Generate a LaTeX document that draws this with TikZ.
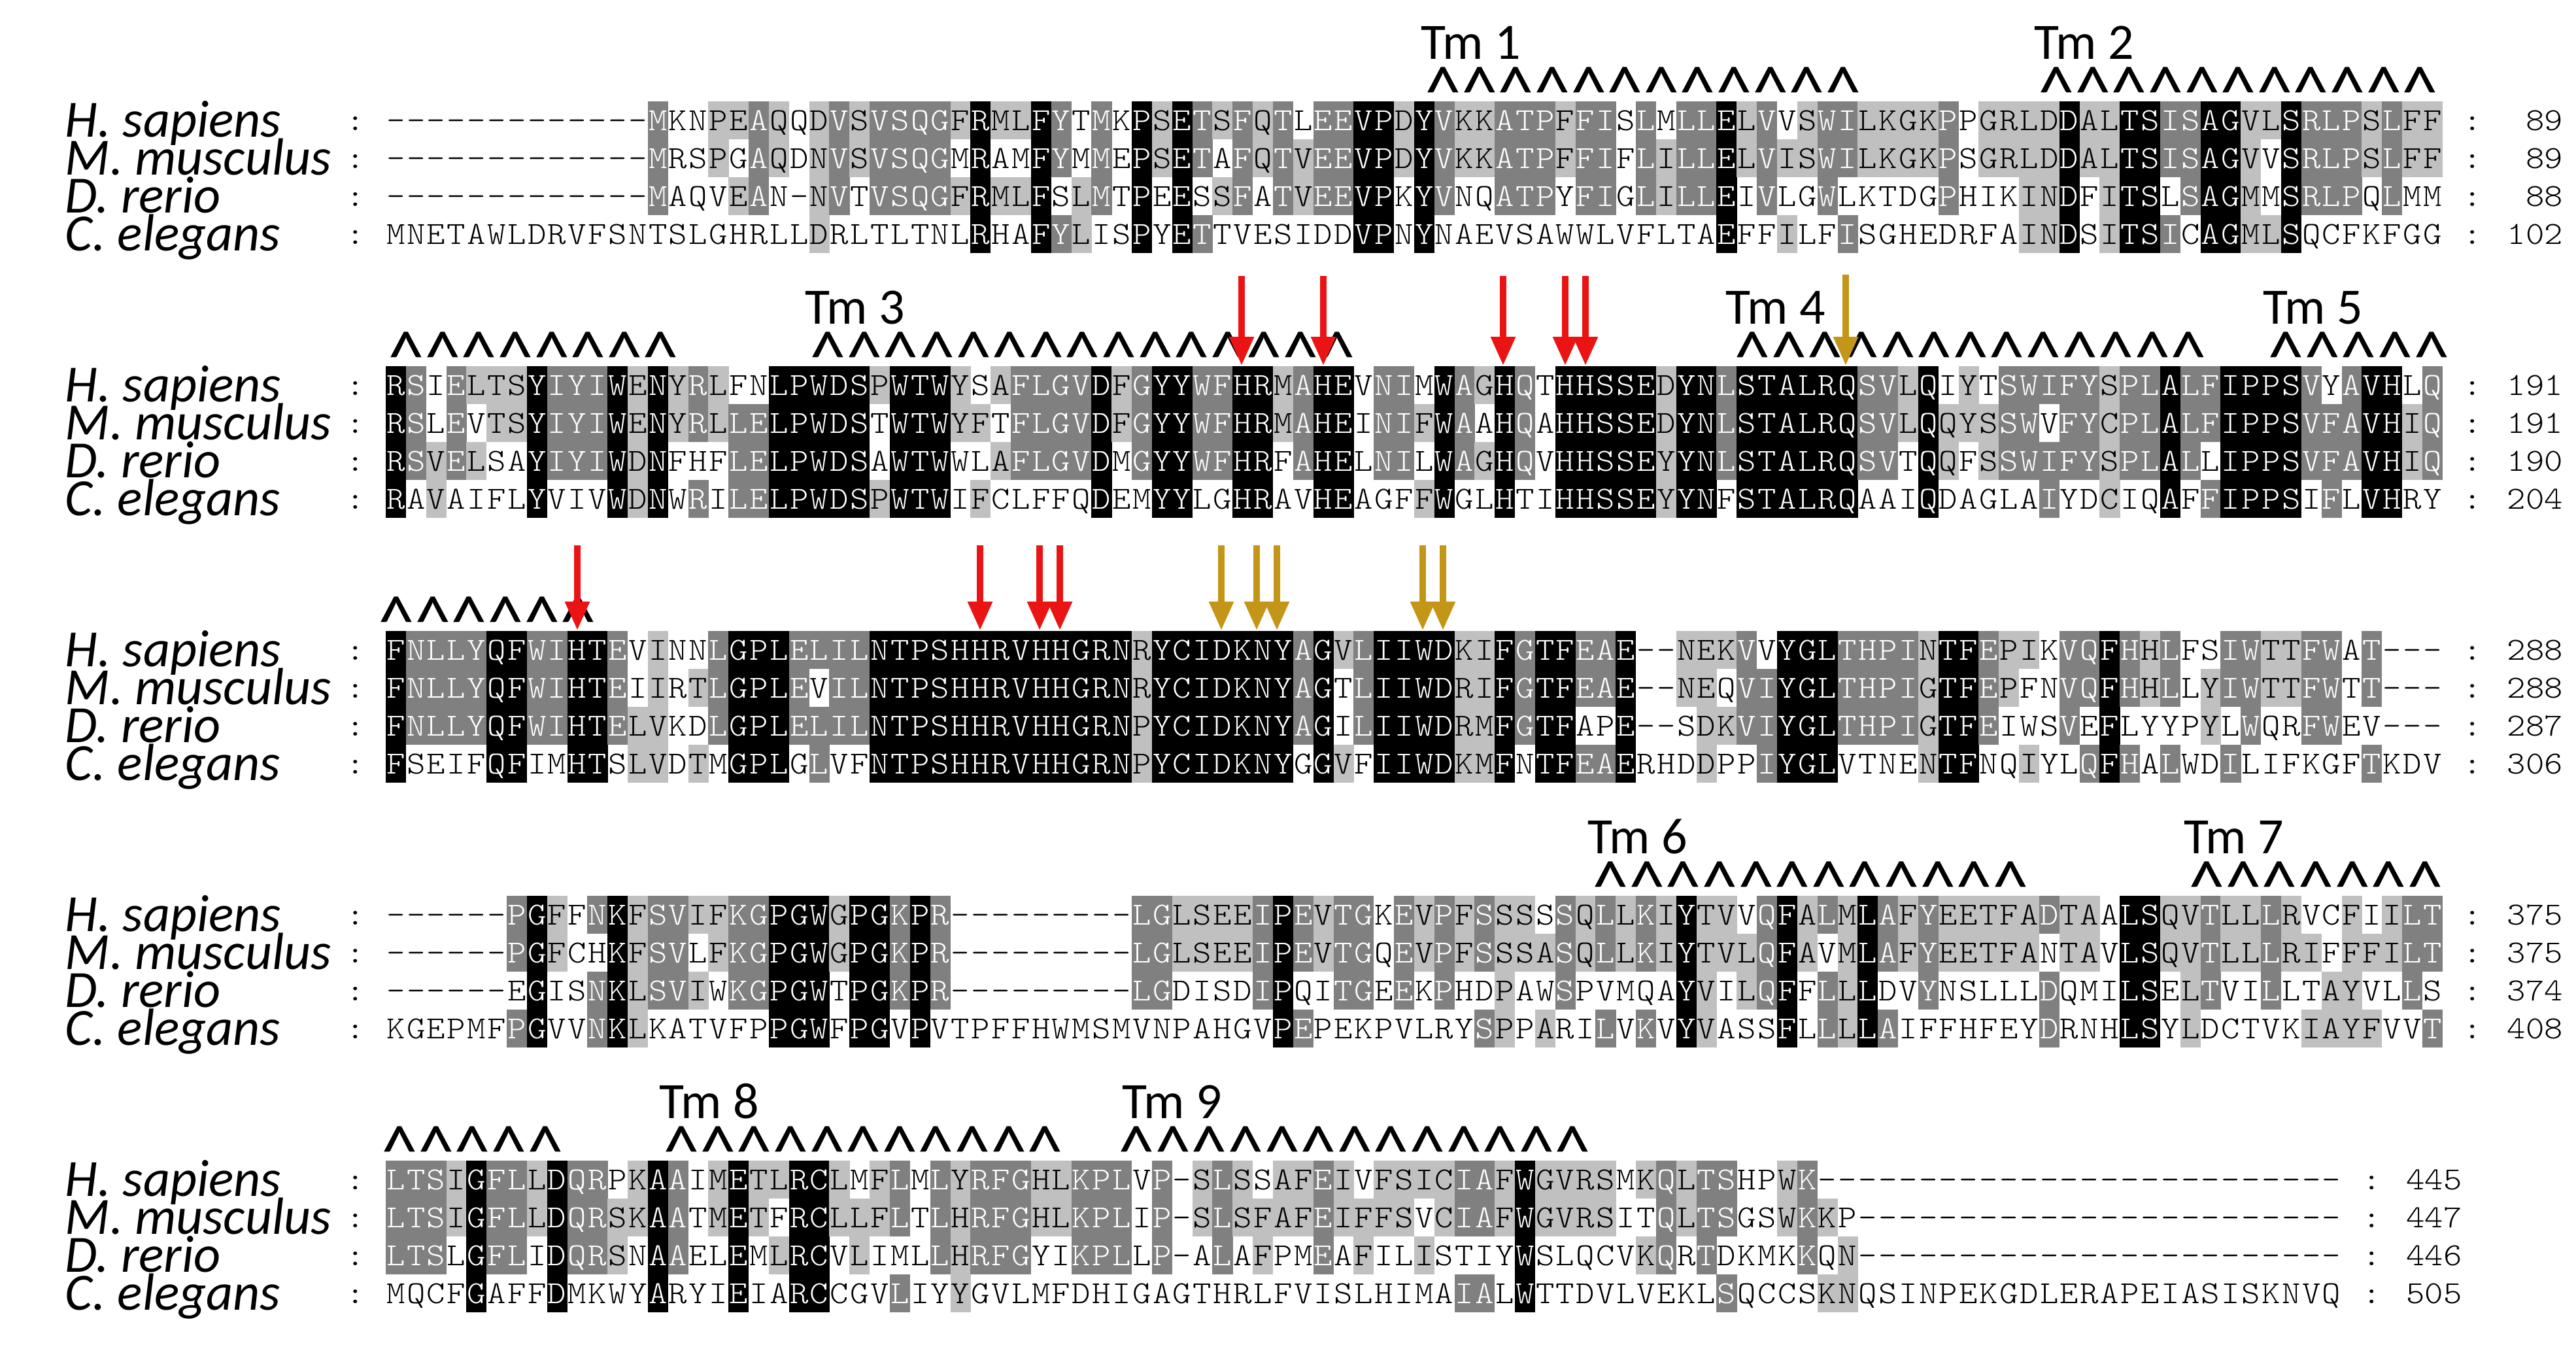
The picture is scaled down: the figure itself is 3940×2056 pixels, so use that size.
\documentclass[tikz,border=0pt]{standalone}
\usepackage{fontspec}
\usetikzlibrary{arrows.meta}
\newfontfamily\seqfont{lmmonolt10-regular.otf}
\newfontfamily\lblfont{Carlito}
\definecolor{alnK}{RGB}{0,0,0}
\definecolor{alnD}{RGB}{128,128,128}
\definecolor{alnL}{RGB}{192,192,192}
\definecolor{alnred}{RGB}{235,20,20}
\definecolor{alngold}{RGB}{196,150,24}
\tikzset{
 seqchar/.style={anchor=base,inner sep=0pt,xscale=1.1,font=\seqfont\fontsize{12.3}{14}\selectfont},
 seqnum/.style={anchor=base east,inner sep=0pt,xscale=1.1,font=\seqfont\fontsize{12.3}{14}\selectfont},
 species/.style={anchor=base west,inner sep=0pt,font=\lblfont\itshape\fontsize{20}{24}\selectfont},
 tmlabel/.style={anchor=base west,inner sep=0pt,font=\lblfont\fontsize{19.5}{23}\selectfont},
 caret/.style={anchor=north,inner sep=0pt,font=\lblfont\fontsize{28}{32}\selectfont},
 redarrow/.style={draw=alnred,line width=2.3pt,-{Triangle[length=11pt,width=9pt]}},
 goldarrow/.style={draw=alngold,line width=2.3pt,-{Triangle[length=11pt,width=9pt]}},
}
\def\alnnone{none}
\newcommand\AlnCell[6]{%
  \def\alnfilltmp{#3}%
  \ifx\alnfilltmp\alnnone\else\fill[#3] (#1,#2) rectangle ++(31.1,58.3);\fi
  \node[seqchar,text=#4] (#6) at (#1+15.42,#2+44) {#5};}
\newcommand\AlnTail[5]{%
  \node[seqchar] (#5-lc) at (543.8,#1+44) {:};
  \node[seqchar] (#5-rc) at (#2,#1+44) {:};
  \node[seqnum] (#5-num) at (#3,#1+44) {#4};}
\newcommand\CaretRow[4]{%
  \foreach \k in {1,...,#4}{\node[caret] (#1-\k) at ({#2+22.5+55.6*(\k-1)},#3) {\textasciicircum};}}
\ExplSyntaxOn
\str_new:N \l_aln_sa_str
\str_new:N \l_aln_sb_str
\str_new:N \l_aln_sc_str
\str_new:N \l_aln_sd_str
\tl_new:N \l_aln_ca_tl
\tl_new:N \l_aln_cb_tl
\tl_new:N \l_aln_cc_tl
\tl_new:N \l_aln_cd_tl
\tl_const:Nn \c_aln_gap_tl {-}
\int_new:N \l_aln_cnt_int
\int_new:N \l_aln_n_int
\int_new:N \l_aln_top_int
\tl_new:N \l_aln_fill_tl
\tl_new:N \l_aln_txt_tl
\cs_new_protected:Npn \aln_count:N #1
 {
  \int_zero:N \l_aln_cnt_int
  \tl_if_eq:NNF #1 \c_aln_gap_tl
   {
    \tl_if_eq:NNT #1 \l_aln_ca_tl { \int_incr:N \l_aln_cnt_int }
    \tl_if_eq:NNT #1 \l_aln_cb_tl { \int_incr:N \l_aln_cnt_int }
    \tl_if_eq:NNT #1 \l_aln_cc_tl { \int_incr:N \l_aln_cnt_int }
    \tl_if_eq:NNT #1 \l_aln_cd_tl { \int_incr:N \l_aln_cnt_int }
   }
 }
\cs_new_protected:Npn \aln_cell:nnnN #1#2#3#4
 {
  \aln_count:N #4
  \int_case:nnF { \l_aln_cnt_int }
   {
    { 4 } { \tl_set:Nn \l_aln_fill_tl { alnK } \tl_set:Nn \l_aln_txt_tl { white } }
    { 3 } { \tl_set:Nn \l_aln_fill_tl { alnD } \tl_set:Nn \l_aln_txt_tl { white } }
    { 2 } { \tl_set:Nn \l_aln_fill_tl { alnL } \tl_set:Nn \l_aln_txt_tl { black } }
   }
   { \tl_set:Nn \l_aln_fill_tl { none } \tl_set:Nn \l_aln_txt_tl { black } }
  \use:e
   {
    \exp_not:N \AlnCell
     { \fp_eval:n { 590 + (#2 - 1) * 30.84 } }
     { \int_eval:n { \l_aln_top_int + 58 * #3 } }
     { \l_aln_fill_tl }
     { \l_aln_txt_tl }
     { \tl_use:N #4 }
     { b#1r \int_eval:n { #3 + 1 } c#2 }
   }
 }
\cs_new_protected:Npn \aln_fetch:NNn #1#2#3
 {
  \tl_set:Nx #1 { \str_item:Nn #2 {#3} }
  \tl_if_empty:NT #1 { \tl_set_eq:NN #1 \c_aln_gap_tl }
 }
\cs_new_protected:Npn \aln_tail:nnn #1#2#3
 {
  \use:e
   {
    \exp_not:N \AlnTail
     { \int_eval:n { \l_aln_top_int + 58 * #2 } }
     { \fp_eval:n { 590 + (\l_aln_n_int + 1.5) * 30.84 } }
     { \fp_eval:n { 590 + (\l_aln_n_int + 6) * 30.84 } }
     {#3}
     { b#1r \int_eval:n { #2 + 1 } }
   }
 }
\cs_new_protected:Npn \aln_block:nnnnnnnnn #1#2#3#4#5#6#7#8#9
 {
  \int_set:Nn \l_aln_top_int { 155 + 405 * #1 }
  \str_set:Nn \l_aln_sa_str {#2}
  \str_set:Nn \l_aln_sb_str {#3}
  \str_set:Nn \l_aln_sc_str {#4}
  \str_set:Nn \l_aln_sd_str {#5}
  \int_set:Nn \l_aln_n_int { \str_count:N \l_aln_sd_str }
  \int_step_inline:nn { \l_aln_n_int }
   {
    \aln_fetch:NNn \l_aln_ca_tl \l_aln_sa_str {##1}
    \aln_fetch:NNn \l_aln_cb_tl \l_aln_sb_str {##1}
    \aln_fetch:NNn \l_aln_cc_tl \l_aln_sc_str {##1}
    \aln_fetch:NNn \l_aln_cd_tl \l_aln_sd_str {##1}
    \aln_cell:nnnN {#1} {##1} {0} \l_aln_ca_tl
    \aln_cell:nnnN {#1} {##1} {1} \l_aln_cb_tl
    \aln_cell:nnnN {#1} {##1} {2} \l_aln_cc_tl
    \aln_cell:nnnN {#1} {##1} {3} \l_aln_cd_tl
   }
  \aln_tail:nnn {#1} {0} {#6}
  \aln_tail:nnn {#1} {1} {#7}
  \aln_tail:nnn {#1} {2} {#8}
  \aln_tail:nnn {#1} {3} {#9}
 }
\cs_set_eq:NN \AlnBlock \aln_block:nnnnnnnnn
\ExplSyntaxOff
\begin{document}
\begin{tikzpicture}[x=0.25pt,y=-0.25pt]
\fill[white] (0,0) rectangle (3940,2056);
\useasboundingbox (0,0) rectangle (3940,2056);
% ---- alignment blocks ----
\AlnBlock{0}%
{-------------MKNPEAQQDVSVSQGFRMLFYTMKPSETSFQTLEEVPDYVKKATPFFISLMLLELVVSWILKGKPPGRLDDALTSISAGVLSRLPSLFF}%
{-------------MRSPGAQDNVSVSQGMRAMFYMMEPSETAFQTVEEVPDYVKKATPFFIFLILLELVISWILKGKPSGRLDDALTSISAGVVSRLPSLFF}%
{-------------MAQVEAN-NVTVSQGFRMLFSLMTPEESSFATVEEVPKYVNQATPYFIGLILLEIVLGWLKTDGPHIKINDFITSLSAGMMSRLPQLMM}%
{MNETAWLDRVFSNTSLGHRLLDRLTLTNLRHAFYLISPYETTVESIDDVPNYNAEVSAWWLVFLTAEFFILFISGHEDRFAINDSITSICAGMLSQCFKFGG}%
{89}{89}{88}{102}
\AlnBlock{1}%
{RSIELTSYIYIWENYRLFNLPWDSPWTWYSAFLGVDFGYYWFHRMAHEVNIMWAGHQTHHSSEDYNLSTALRQSVLQIYTSWIFYSPLALFIPPSVYAVHLQ}%
{RSLEVTSYIYIWENYRLLELPWDSTWTWYFTFLGVDFGYYWFHRMAHEINIFWAAHQAHHSSEDYNLSTALRQSVLQQYSSWVFYCPLALFIPPSVFAVHIQ}%
{RSVELSAYIYIWDNFHFLELPWDSAWTWWLAFLGVDMGYYWFHRFAHELNILWAGHQVHHSSEYYNLSTALRQSVTQQFSSWIFYSPLALLIPPSVFAVHIQ}%
{RAVAIFLYVIVWDNWRILELPWDSPWTWIFCLFFQDEMYYLGHRAVHEAGFFWGLHTIHHSSEYYNFSTALRQAAIQDAGLAIYDCIQAFFIPPSIFLVHRY}%
{191}{191}{190}{204}
\AlnBlock{2}%
{FNLLYQFWIHTEVINNLGPLELILNTPSHHRVHHGRNRYCIDKNYAGVLIIWDKIFGTFEAE--NEKVVYGLTHPINTFEPIKVQFHHLFSIWTTFWAT---}%
{FNLLYQFWIHTEIIRTLGPLEVILNTPSHHRVHHGRNRYCIDKNYAGTLIIWDRIFGTFEAE--NEQVIYGLTHPIGTFEPFNVQFHHLLYIWTTFWTT---}%
{FNLLYQFWIHTELVKDLGPLELILNTPSHHRVHHGRNPYCIDKNYAGILIIWDRMFGTFAPE--SDKVIYGLTHPIGTFEIWSVEFLYYPYLWQRFWEV---}%
{FSEIFQFIMHTSLVDTMGPLGLVFNTPSHHRVHHGRNPYCIDKNYGGVFIIWDKMFNTFEAERHDDPPIYGLVTNENTFNQIYLQFHALWDILIFKGFTKDV}%
{288}{288}{287}{306}
\AlnBlock{3}%
{------PGFFNKFSVIFKGPGWGPGKPR---------LGLSEEIPEVTGKEVPFSSSSSQLLKIYTVVQFALMLAFYEETFADTAALSQVTLLLRVCFIILT}%
{------PGFCHKFSVLFKGPGWGPGKPR---------LGLSEEIPEVTGQEVPFSSSASQLLKIYTVLQFAVMLAFYEETFANTAVLSQVTLLLRIFFFILT}%
{------EGISNKLSVIWKGPGWTPGKPR---------LGDISDIPQITGEEKPHDPAWSPVMQAYVILQFFLLLDVYNSLLLDQMILSELTVILLTAYVLLS}%
{KGEPMFPGVVNKLKATVFPPGWFPGVPVTPFFHWMSMVNPAHGVPEPEKPVLRYSPPARILVKVYVASSFLLLLAIFFHFEYDRNHLSYLDCTVKIAYFVVT}%
{375}{375}{374}{408}
\AlnBlock{4}%
{LTSIGFLLDQRPKAAIMETLRCLMFLMLYRFGHLKPLVP-SLSSAFEIVFSICIAFWGVRSMKQLTSHPWK}%
{LTSIGFLLDQRSKAATMETFRCLLFLTLHRFGHLKPLIP-SLSFAFEIFFSVCIAFWGVRSITQLTSGSWKKP}%
{LTSLGFLIDQRSNAAELEMLRCVLIMLLHRFGYIKPLLP-ALAFPMEAFILISTIYWSLQCVKQRTDKMKKQN}%
{MQCFGAFFDMKWYARYIEIARCCGVLIYYGVLMFDHIGAGTHRLFVISLHIMAIALWTTDVLVEKLSQCCSKNQSINPEKGDLERAPEIASISKNVQ}%
{445}{447}{446}{505}
% ---- species labels ----
\foreach \b in {0,...,4}{
  \pgfmathsetmacro\T{155+405*\b}
  \node[species] (sp-\b-1) at (99,\T+54) {H. sapiens};
  \node[species] (sp-\b-2) at (99,\T+112) {M. musculus};
  \node[species] (sp-\b-3) at (99,\T+170) {D. rerio};
  \node[species] (sp-\b-4) at (99,\T+228) {C. elegans};
}
% ---- transmembrane labels ----
\node[tmlabel] (tm1) at (2173,90) {Tm 1};
\node[tmlabel] (tm2) at (3111,90) {Tm 2};
\node[tmlabel] (tm3) at (1231,495) {Tm 3};
\node[tmlabel] (tm4) at (2639,495) {Tm 4};
\node[tmlabel] (tm5) at (3461,495) {Tm 5};
\node[tmlabel] (tm6) at (2428,1305) {Tm 6};
\node[tmlabel] (tm7) at (3340,1305) {Tm 7};
\node[tmlabel] (tm8) at (1008,1710) {Tm 8};
\node[tmlabel] (tm9) at (1716,1710) {Tm 9};
\CaretRow{c1}{2185}{102}{12}
\CaretRow{c2}{3123}{102}{11}
\CaretRow{c2a}{599}{507}{8}
\CaretRow{c3}{1244}{507}{15}
\CaretRow{c4}{2658}{507}{13}
\CaretRow{c5}{3474}{507}{5}
\CaretRow{c5a}{584}{912}{6}
\CaretRow{c6}{2441}{1317}{12}
\CaretRow{c7}{3353}{1317}{7}
\CaretRow{c7a}{589}{1722}{5}
\CaretRow{c8}{1020}{1722}{11}
\CaretRow{c9}{1716}{1722}{13}
% ---- arrows ----
\foreach \i/\x in {1/1899,2/2024,3/2299,4/2394,5/2425}{
  \coordinate (ra\i-s) at (\x,422); \coordinate (ra\i-e) at (\x,559);
  \draw[redarrow] (ra\i-s) -- (ra\i-e);}
\coordinate (ga1-s) at (2823,420); \coordinate (ga1-e) at (2823,559);
\draw[goldarrow] (ga1-s) -- (ga1-e);
\foreach \i/\x in {1/883,2/1499,3/1590,4/1621}{
  \coordinate (rb\i-s) at (\x,834); \coordinate (rb\i-e) at (\x,964);
  \draw[redarrow] (rb\i-s) -- (rb\i-e);}
\foreach \i/\x in {1/1868,2/1922,3/1953,4/2176,5/2207}{
  \coordinate (gb\i-s) at (\x,834); \coordinate (gb\i-e) at (\x,964);
  \draw[goldarrow] (gb\i-s) -- (gb\i-e);}
\end{tikzpicture}
\end{document}
